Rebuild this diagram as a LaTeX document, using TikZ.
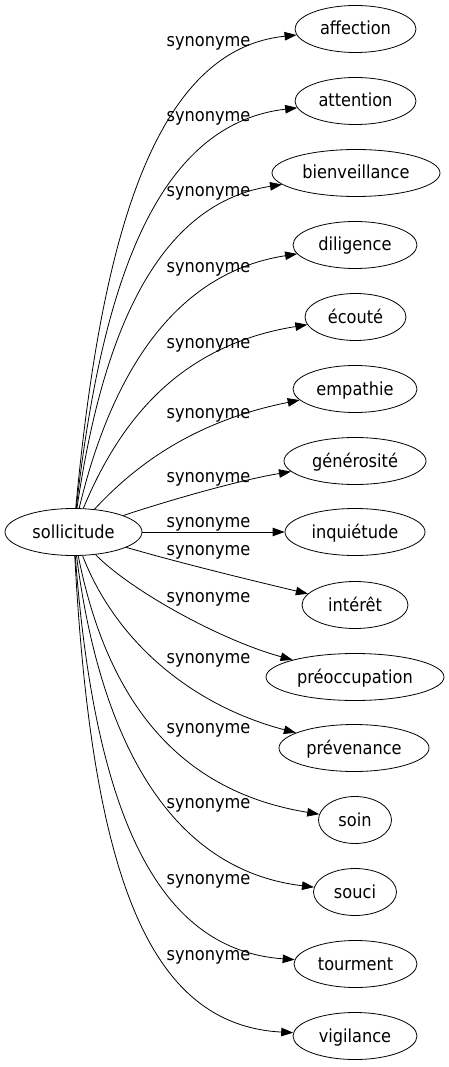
\documentclass[tikz,border=0pt]{standalone}
\usepackage{fontspec}
\setmainfont{DejaVu Sans Condensed}
\usepackage{tikz}
\usetikzlibrary{arrows.meta,shapes.geometric}

\begin{document}
\begin{tikzpicture}[x=1pt,y=-1pt,>={Triangle[length=12pt,width=8.5pt]},
	word/.style={draw,ellipse,line width=0.8pt,inner sep=0pt,minimum height=47pt,
		text height=12pt,text depth=0pt,font=\fontsize{18}{20}\selectfont},
	syn/.style={anchor=base,inner sep=0pt,font=\fontsize{18}{20}\selectfont},
	synlink/.style={->,line width=0.8pt}]

	\useasboundingbox (0,0) rectangle (449,1067);
%	\draw[gray,step=50] (0,0) grid (449,1067);

	% the word and its synonyms
	\node [word, minimum width=137pt] (sollicitude) at (73.5,532) {sollicitude};

	\node [word, minimum width=121pt] (affection) at (355.5,29) {affection};
	\node [word, minimum width=121pt] (attention) at (355.5,101) {attention};
	\node [word, minimum width=168pt] (bienveillance) at (356,173) {bienveillance};
	\node [word, minimum width=124pt] (diligence) at (355,245) {diligence};
	\node [word, minimum width=101pt] (ecoute) at (355.5,317) {écouté};
	\node [word, minimum width=124pt] (empathie) at (355,389) {empathie};
	\node [word, minimum width=142pt] (generosite) at (355,461) {générosité};
	\node [word, minimum width=140pt] (inquietude) at (355,532) {inquiétude};
	\node [word, minimum width=106pt] (interet) at (355,605) {intérêt};
	\node [word, minimum width=178pt] (preoccupation) at (355,677) {préoccupation};
	\node [word, minimum width=150pt] (prevenance) at (354,748) {prévenance};
	\node [word, minimum width=73pt] (soin) at (355,820) {soin};
	\node [word, minimum width=83pt] (souci) at (355,892) {souci};
	\node [word, minimum width=123pt] (tourment) at (355.5,964) {tourment};
	\node [word, minimum width=124pt] (vigilance) at (355,1036) {vigilance};

	% labels
	\node [syn] (s-affection) at (208.5,47) {synonyme};
	\node [syn] (s-attention) at (208.5,122) {synonyme};
	\node [syn] (s-bienveillance) at (208.5,197) {synonyme};
	\node [syn] (s-diligence) at (208.5,272) {synonyme};
	\node [syn] (s-ecoute) at (208.5,348) {synonyme};
	\node [syn] (s-empathie) at (208.5,418) {synonyme};
	\node [syn] (s-generosite) at (208.5,482) {synonyme};
	\node [syn] (s-inquietude) at (208.5,527) {synonyme};
	\node [syn] (s-interet) at (208.5,555) {synonyme};
	\node [syn] (s-preoccupation) at (208.5,602) {synonyme};
	\node [syn] (s-prevenance) at (208.5,663) {synonyme};
	\node [syn] (s-soin) at (208.5,733) {synonyme};
	\node [syn] (s-souci) at (208.5,808) {synonyme};
	\node [syn] (s-tourment) at (208.5,884) {synonyme};
	\node [syn] (s-vigilance) at (208.5,960) {synonyme};

	% upper edges
	\draw[synlink] (sollicitude) .. controls (100,250) and (150,50) .. (affection);
	\draw[synlink] (sollicitude) .. controls (100,300) and (150,125) .. (attention);
	\draw[synlink] (sollicitude) .. controls (100,350) and (150,205) .. (bienveillance);
	\draw[synlink] (sollicitude) .. controls (105,400) and (160,275) .. (diligence);
	\draw[synlink] (sollicitude) .. controls (120,420) and (180,345) .. (ecoute);
	\draw[synlink] (sollicitude) .. controls (140,460) and (200,420) .. (empathie);
	\draw[synlink] (sollicitude) .. controls (170,500) and (240,480) .. (generosite);

	\draw[synlink] (sollicitude) -- (inquietude);

	% lower edges
	\draw[synlink] (sollicitude) .. controls (180,563) and (250,580) .. (interet);
	\draw[synlink] (sollicitude) .. controls (130,590) and (220,640) .. (preoccupation);
	\draw[synlink] (sollicitude) .. controls (115,640) and (190,705) .. (prevenance);
	\draw[synlink] (sollicitude) .. controls (105,690) and (170,790) .. (soin);
	\draw[synlink] (sollicitude) .. controls (100,740) and (170,870) .. (souci);
	\draw[synlink] (sollicitude) .. controls (95,820) and (160,950) .. (tourment);
	\draw[synlink] (sollicitude) .. controls (92,880) and (150,1025) .. (vigilance);

\end{tikzpicture}
\end{document}
